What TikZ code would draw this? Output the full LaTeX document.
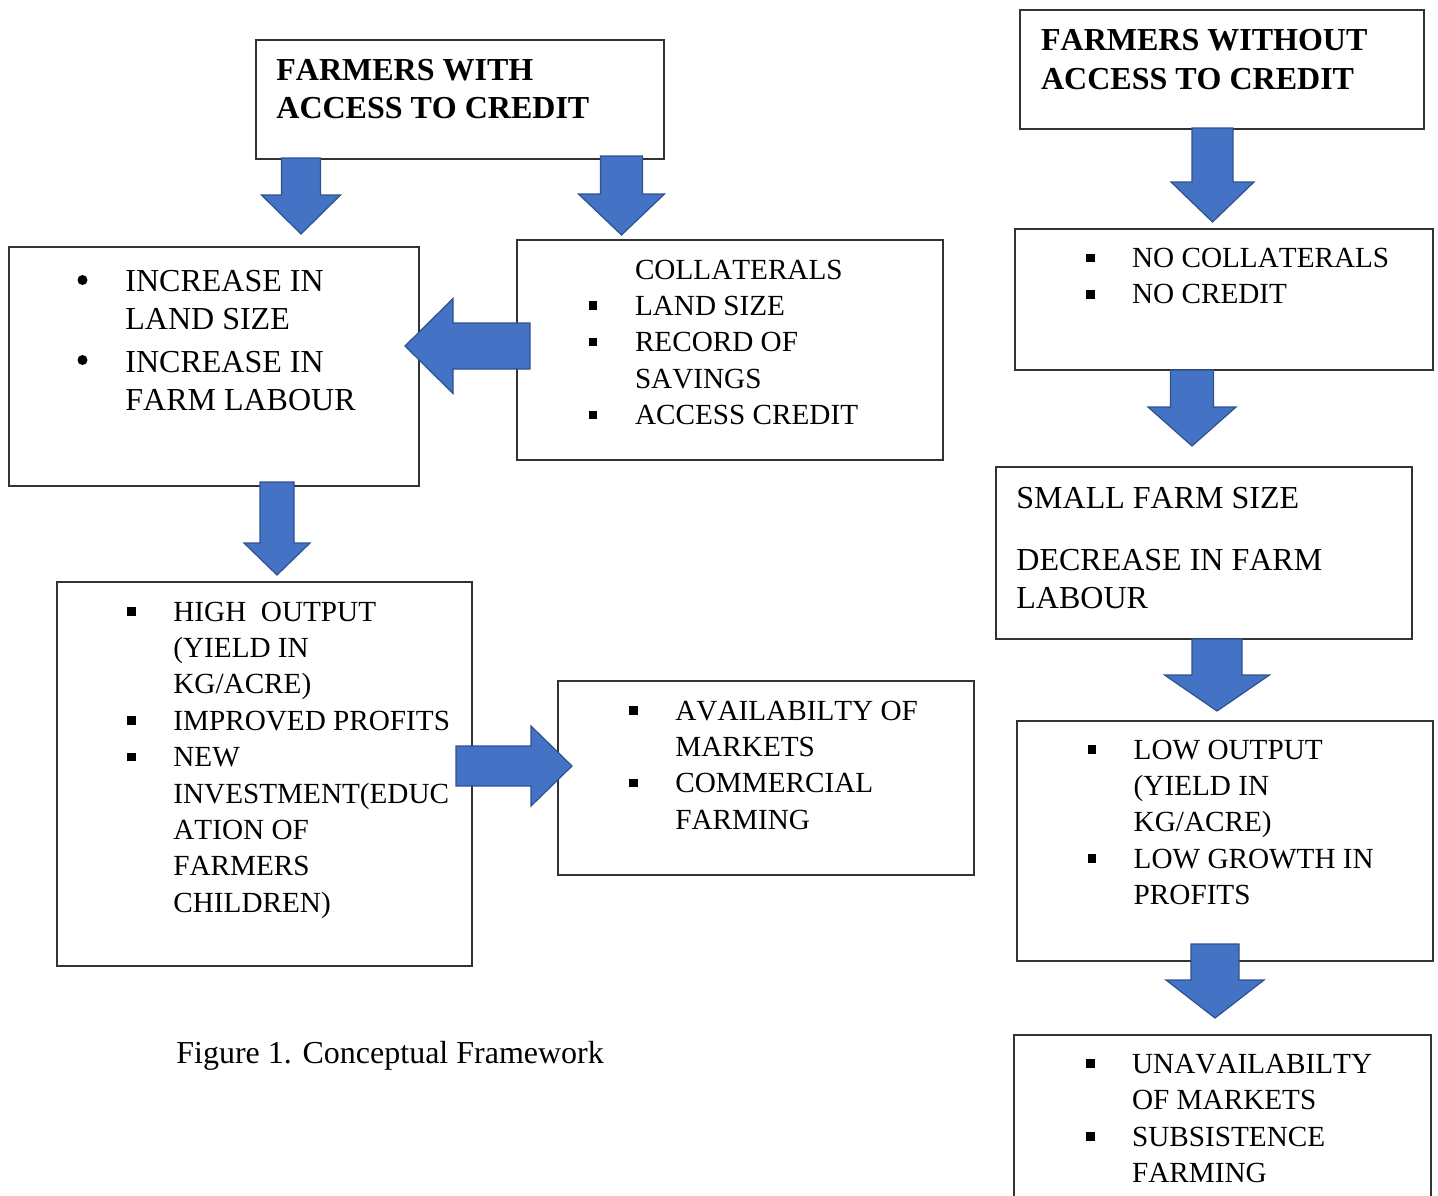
\documentclass[tikz,border=0pt]{standalone}
\usepackage{fontspec}
\setmainfont[Kerning=Off]{Liberation Serif}
\usetikzlibrary{fit,calc}

\definecolor{arrowblue}{HTML}{4472C4}
\definecolor{arrowedge}{HTML}{2F528F}

% square bullet
\newcommand{\sqb}{\llap{\rule[2.7pt]{4.3pt}{4.3pt}\hspace{18.8pt}}}
% lines of a box
\newcommand{\boxlines}[1]{\begin{tabular}[t]{@{}l@{}}#1\end{tabular}}
% block arrow: origin, angle, length, head length, shaft half width, head half width
\newcommand{\blockarrow}[6]{%
  \filldraw[blockarrow, shift={#1}, rotate=#2]
    (0,-#5) -- ({#3-#4},-#5) -- ({#3-#4},-#6) -- (#3,0)
    -- ({#3-#4},#6) -- ({#3-#4},#5) -- (0,#5) -- cycle;}

\begin{document}
\begin{tikzpicture}[x=0.5pt, y=-0.5pt,
    framebox/.style={draw=black!80, line width=0.8pt, inner sep=0pt, outer sep=0pt},
    headtext/.style={anchor=base west, inner sep=0pt, font=\fontsize{16}{19.2}\selectfont\bfseries},
    bodytext/.style={anchor=base west, inner sep=0pt, font=\fontsize{14.6}{18.2}\selectfont},
    bigtext/.style={anchor=base west, inner sep=0pt, font=\fontsize{16}{19}\selectfont},
    blockarrow/.style={fill=arrowblue, draw=arrowedge, line width=0.6pt}]

    \useasboundingbox (0,0) rectangle (1438,1195);
    \clip (0,0) rectangle (1438,1195);

    % farmers with access to credit
    \begin{scope}
        \node[framebox, fit={(256,40) (664,159)}] (with) {};
        \node[headtext] (withtxt) at (276,80) {\boxlines{FARMERS WITH\\ACCESS TO CREDIT}};

        \node[framebox, fit={(9,247) (419,486)}] (gain) {};
        \node[bigtext] (gaintxt) at (125,291) {\boxlines{INCREASE IN\\LAND SIZE\\[2.7pt]INCREASE IN\\FARM LABOUR}};
        \fill (82.5,280) circle (2.5pt);
        \fill (82.5,360) circle (2.5pt);

        \node[framebox, fit={(517,240) (943,460)}] (collat) {};
        \node[bodytext] (collattxt) at (634.6,279) {\boxlines{COLLATERALS\\\sqb LAND SIZE\\\sqb RECORD OF\\SAVINGS\\\sqb ACCESS CREDIT}};

        \node[framebox, fit={(57,582) (472,966)}] (high) {};
        \node[bodytext] (hightxt) at (173,621) {\boxlines{\sqb HIGH\ \ OUTPUT\\(YIELD IN\\KG/ACRE)\\\sqb IMPROVED PROFITS\\\sqb NEW\\INVESTMENT(EDUC\\ATION OF\\FARMERS\\CHILDREN)}};

        \node[framebox, fit={(558,681) (974,875)}] (market) {};
        \node[bodytext] (markettxt) at (675,720) {\boxlines{\sqb AVAILABILTY OF\\MARKETS\\\sqb COMMERCIAL\\FARMING}};

        \node[bigtext] (caption) at (176,1063) {Figure 1. Conceptual Framework};

        % block arrows
        \blockarrow{($(with.south west)+(45,-1)$)}{-90}{76}{39}{19.5}{39.5}
        \blockarrow{($(with.south east)+(-42.5,-3)$)}{-90}{79}{41}{21}{43}
        \blockarrow{($(collat.west)+(13,-4)$)}{180}{125}{48}{23}{47.5}
        \blockarrow{($(gain.south west)+(268,-4)$)}{-90}{93}{32}{17}{33}
        \blockarrow{($(high.east)+(-16,-8)$)}{0}{116}{41}{20}{40}
    \end{scope}

    % farmers without access to credit
    \begin{scope}
        \node[framebox, fit={(1020,10) (1424,129)}] (without) {};
        \node[headtext] (withouttxt) at (1040.7,50.7) {\boxlines{FARMERS WITHOUT\\ACCESS TO CREDIT}};

        \node[framebox, fit={(1015,229) (1433,370)}] (nocredit) {};
        \node[bodytext] (nocredittxt) at (1131.7,267.5) {\boxlines{\sqb NO COLLATERALS\\\sqb NO CREDIT}};

        \node[framebox, fit={(996,467) (1412,639)}] (small) {};
        \node[bigtext] (smalltxt) at (1016,508) {\boxlines{SMALL FARM SIZE\\[12pt]DECREASE IN FARM\\LABOUR}};

        \node[framebox, fit={(1017,721) (1433,961)}] (low) {};
        \node[bodytext] (lowtxt) at (1133.3,759) {\boxlines{\sqb LOW OUTPUT\\(YIELD IN\\KG/ACRE)\\\sqb LOW GROWTH IN\\PROFITS}};

        \node[framebox, fit={(1014,1035) (1431,1215)}] (unavail) {};
        \node[bodytext] (unavailtxt) at (1131.7,1073.3) {\boxlines{\sqb UNAVAILABILTY\\OF MARKETS\\\sqb SUBSISTENCE\\FARMING}};

        % block arrows
        \blockarrow{($(without.south west)+(192.5,-1)$)}{-90}{94}{40}{20.5}{41.5}
        \blockarrow{($(nocredit.south west)+(177,0)$)}{-90}{76}{39}{21.5}{44}
        \blockarrow{($(small.south west)+(221,0)$)}{-90}{72}{36}{25}{52.5}
        \blockarrow{($(low.south west)+(198,-17)$)}{-90}{74}{38}{24}{49}
    \end{scope}
\end{tikzpicture}
\end{document}
